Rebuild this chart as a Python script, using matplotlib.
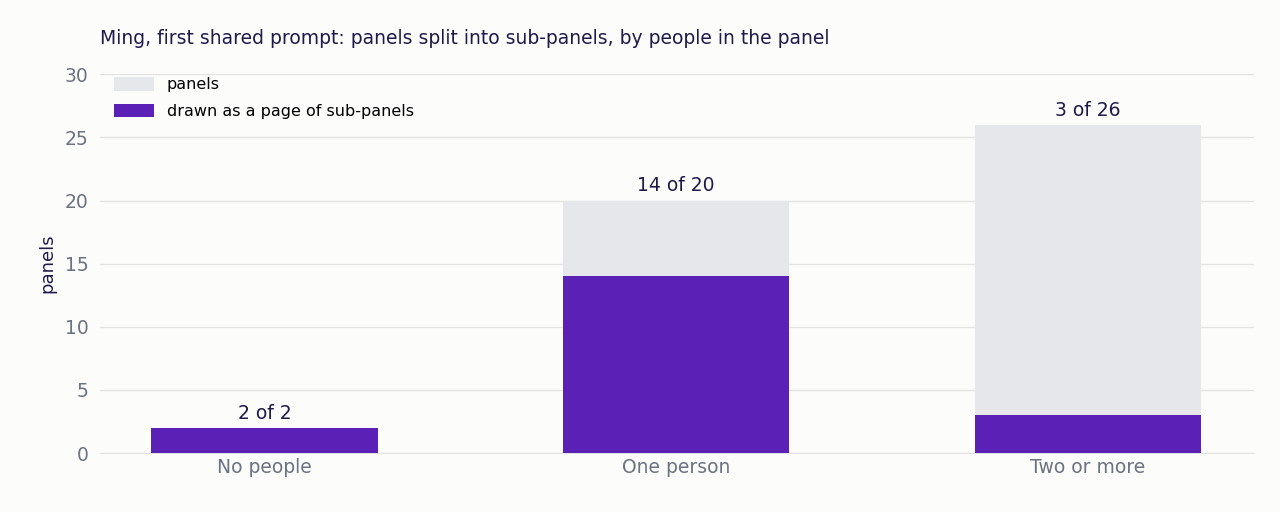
import matplotlib
matplotlib.use('Agg')
import matplotlib.pyplot as plt

categories = ["No people", "One person", "Two or more"]
panels = [2, 20, 26]
sub_panels = [2, 14, 3]

bg = "#fcfcfb"
grey = "#e6e7eb"
purple = "#5b21b6"
dark = "#1e1b4b"
tick_grey = "#6b7280"

fig = plt.figure(figsize=(12.8, 5.12), dpi=100, facecolor=bg)
ax = fig.add_axes([0.078, 0.115, 0.902, 0.74], facecolor=bg)

x = range(len(categories))
ax.bar(x, panels, width=0.55, color=grey, label="panels", zorder=2)
ax.bar(x, sub_panels, width=0.55, color=purple, label="drawn as a page of sub-panels", zorder=3)
for i, (s, p) in enumerate(zip(sub_panels, panels)):
    ax.text(i, p + 0.4, f"{s} of {p}", ha="center", va="bottom", fontsize=13.5, color=dark)

ax.set_xlim(-0.4, 2.405)
ax.set_ylim(0, 30)
ax.set_yticks(range(0, 31, 5))
ax.set_xticks(list(x))
ax.set_xticklabels(categories)
ax.tick_params(axis="both", length=0, labelsize=13.5, labelcolor=tick_grey)
ax.tick_params(axis="y", pad=8)
ax.grid(axis="y", color="#e3e3e3", linewidth=1, zorder=0)
for s in ["top", "right", "left"]:
    ax.spines[s].set_visible(False)
ax.spines["bottom"].set_color("#e3e3e3")
ax.set_ylabel("panels", fontsize=13, color=dark, labelpad=6)

ax.legend(loc="upper left", bbox_to_anchor=(0.0, 1.03), frameon=False, fontsize=11.5,
          handlelength=2.5, handleheight=0.9, labelspacing=0.7)
fig.text(0.078, 0.925, "Ming, first shared prompt: panels split into sub-panels, by people in the panel",
         fontsize=13.5, color=dark, ha="left", va="center")

fig.savefig("out.png", dpi=100, facecolor=bg)
